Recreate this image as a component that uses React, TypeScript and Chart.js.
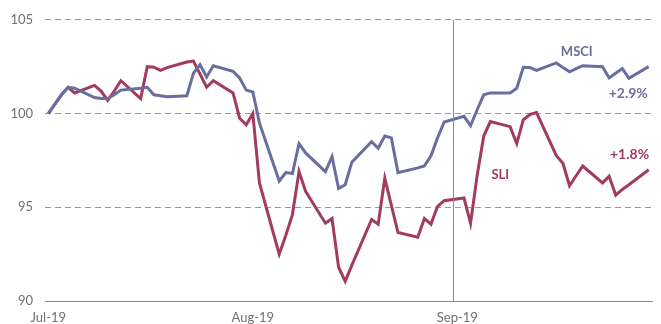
import React, { useEffect, useRef } from "react";
import { Chart, registerables } from "chart.js";

Chart.register(...registerables);

// Day offsets from 1 Jul 2019 (weekdays only)
const days = [
  0, 1, 2, 3, 4, 7, 8, 9, 10, 11, 14, 15, 16, 17, 18, 21, 22, 23, 24, 25, 28, 29, 30,
  31, 32, 35, 36, 37, 38, 39, 42, 43, 44, 45, 46, 49, 50, 51, 52, 53, 56, 57, 58, 59, 60,
  63, 64, 65, 66, 67, 70, 71, 72, 73, 74, 77, 78, 79, 80, 81, 84, 85, 86, 87, 88, 91,
];

const msci = [
  100.0, 100.5, 101.0, 101.4, 101.35, 100.85, 100.8, 100.8, 101.0, 101.25, 101.35, 101.4, 101.0, 100.95, 100.9, 100.95, 102.15, 102.6, 101.95, 102.55, 102.25, 101.9, 101.25,
  101.15, 99.5, 96.4, 96.85, 96.8, 98.4, 97.9, 96.9, 97.7, 96.0, 96.2, 97.4, 98.5, 98.15, 98.8, 98.7, 96.85, 97.1, 97.2, 97.75, 98.7, 99.55,
  99.85, 99.35, 100.2, 101.0, 101.1, 101.1, 101.35, 102.47, 102.45, 102.3, 102.7, 102.45, 102.23, 102.4, 102.55, 102.5, 101.9, 102.15, 102.4, 101.88, 102.5,
];

const sli = [
  100.0, 100.5, 101.0, 101.4, 101.1, 101.5, 101.2, 100.7, 101.2, 101.75, 100.8, 102.5, 102.47, 102.3, 102.45, 102.75, 102.8, 102.1, 101.4, 101.75, 101.1, 99.75, 99.4,
  100.0, 96.3, 92.5, 93.5, 94.6, 96.9, 95.85, 94.15, 94.4, 91.8, 91.05, 91.9, 94.35, 94.1, 96.55, 95.1, 93.65, 93.4, 94.4, 94.1, 95.05, 95.35,
  95.5, 94.15, 96.7, 98.8, 99.57, 99.3, 98.4, 99.67, 99.95, 100.05, 97.75, 97.35, 96.15, 96.68, 97.2, 96.3, 96.65, 95.65, 95.95, 96.2, 97.0,
];

const tickDays = [0, 31, 62];
const tickLabels = ["Jul-19", "Aug-19", "Sep-19"];
const markerDay = 61.4;

const seriesNames = ["MSCI", "SLI"];
const endLabels = ["+2.9%", "+1.8%"];
// label anchor positions (day, value)
const nameLabelDays = [80.1, 68.5];
const nameLabelValues = [103.27, 96.74];
const endLabelDays = [87.9, 88.1];
const endLabelValues = [101.05, 97.84];

const BLUE = "#6a6e9e";
const RED = "#a23b5e";
const colors = [BLUE, RED];
const FONT = "Lato, 'Open Sans', sans-serif";

const overlayPlugin = {
  id: "overlay",
  afterDatasetsDraw(chart: any) {
    const { ctx, chartArea, scales } = chart;
    const xs = scales.x;
    const ys = scales.y;
    ctx.save();
    const vx = Math.round(xs.getPixelForValue(markerDay)) + 0.5;
    ctx.strokeStyle = "#8a8a8a";
    ctx.lineWidth = 1;
    ctx.beginPath();
    ctx.moveTo(vx, chartArea.top);
    ctx.lineTo(vx, chartArea.bottom);
    ctx.stroke();

    ctx.textAlign = "center";
    ctx.textBaseline = "middle";
    for (let i = 0; i < seriesNames.length; i++) {
      ctx.fillStyle = colors[i];
      ctx.font = `bold 13px ${FONT}`;
      ctx.fillText(seriesNames[i], xs.getPixelForValue(nameLabelDays[i]), ys.getPixelForValue(nameLabelValues[i]));
      ctx.font = `bold 14px ${FONT}`;
      ctx.fillText(endLabels[i], xs.getPixelForValue(endLabelDays[i]), ys.getPixelForValue(endLabelValues[i]));
    }
    ctx.restore();
  },
};

export default function App() {
  const ref = useRef<HTMLCanvasElement>(null);
  useEffect(() => {
    if (!ref.current) return;
    const chart = new Chart(ref.current, {
      type: "line",
      data: {
        datasets: [
          {
            label: seriesNames[0],
            data: days.map((d, i) => ({ x: d, y: msci[i] })),
            borderColor: BLUE,
            borderWidth: 3,
            pointRadius: 0,
            tension: 0,
            fill: false,
          },
          {
            label: seriesNames[1],
            data: days.map((d, i) => ({ x: d, y: sli[i] })),
            borderColor: RED,
            borderWidth: 3,
            pointRadius: 0,
            tension: 0,
            fill: false,
          },
        ],
      },
      options: {
        animation: false,
        responsive: false,
        layout: { padding: { top: 19, right: 9, left: 0, bottom: 0 } },
        plugins: { legend: { display: false }, tooltip: { enabled: false } },
        scales: {
          x: {
            type: "linear",
            min: -0.5,
            max: 91.5,
            afterBuildTicks: (s: any) => {
              s.ticks = tickDays.map((v) => ({ value: v }));
            },
            afterFit: (s: any) => {
              s.height = 23;
            },
            ticks: {
              autoSkip: false,
              maxRotation: 0,
              padding: 9,
              color: "#707070",
              font: { family: FONT, size: 13 },
              callback: (v: any) => {
                const idx = tickDays.indexOf(Number(v));
                return idx >= 0 ? tickLabels[idx] : "";
              },
            },
            grid: { display: false, drawTicks: false },
            border: { display: true, color: "#8a8a8a", width: 1 },
          },
          y: {
            min: 90,
            max: 105,
            afterFit: (s: any) => {
              s.width = 45;
            },
            ticks: {
              stepSize: 5,
              padding: 12,
              color: "#707070",
              font: { family: FONT, size: 13 },
            },
            grid: {
              drawTicks: false,
              color: (c: any) => (c.tick && c.tick.value === 90 ? "rgba(0,0,0,0)" : "#9a9a9a"),
              lineWidth: 1,
            },
            border: { display: false, dash: [6, 4] },
          },
        },
      },
      plugins: [overlayPlugin],
    });
    return () => chart.destroy();
  }, []);
  return (
    <div style={{ position: "fixed", left: 0, top: 0, width: 661, height: 324, background: "#fff" }}>
      <canvas ref={ref} width={661} height={324} />
    </div>
  );
}
